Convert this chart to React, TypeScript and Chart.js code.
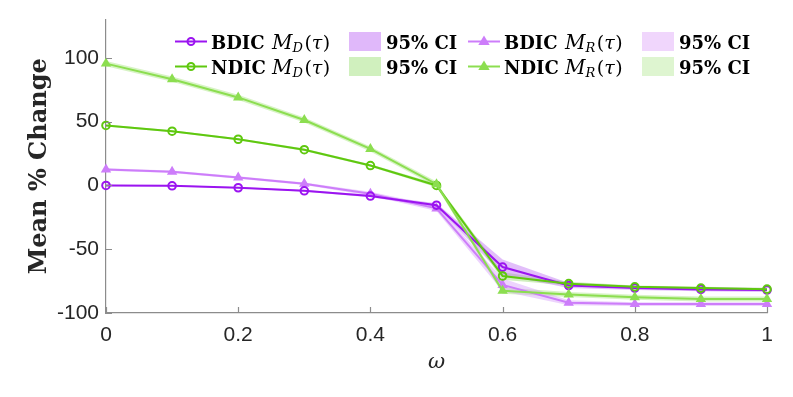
import React, { useEffect, useRef } from "react";
import { Chart, registerables } from "chart.js";
Chart.register(...registerables);

const omega = [0, 0.1, 0.2, 0.3, 0.4, 0.5, 0.6, 0.7, 0.8, 0.9, 1];
const bdicMD = [0, -0.3, -1.8, -4.2, -8.3, -15.5, -64, -78.5, -80.5, -81.5, -82];
const bdicMR = [12.5, 10.7, 6.2, 1.3, -6.5, -18, -78, -92, -93, -93, -93];
const ndicMD = [47, 42.5, 36.2, 28, 15.6, 0, -71, -77, -79.5, -80.5, -81.3];
const ndicMR = [95.5, 83.3, 69, 51.3, 28.6, 1, -82.5, -85.5, -87.7, -89, -89];
const bdicMDci = [0.5, 0.5, 0.5, 0.7, 1, 1.5, 6, 2, 1.5, 1.5, 1.5];
const bdicMRci = [1, 1, 1, 1, 1.5, 2, 5, 2, 1.5, 1.5, 1.5];
const ndicMDci = [0.8, 0.8, 0.8, 1, 1, 1.5, 3, 1.5, 1, 1, 1];
const ndicMRci = [2, 2, 2, 2, 2, 2, 2.5, 2, 2, 2, 2];
const xTicks = [0, 0.2, 0.4, 0.6, 0.8, 1];
const yTicks = [-100, -50, 0, 50, 100];

const C_BMD = "rgb(155,20,240)";
const C_BMR = "rgb(205,125,250)";
const C_NMD = "rgb(95,200,15)";
const C_NMR = "rgb(140,222,80)";
const F_BMD = "rgb(224,184,250)";
const F_BMR = "rgb(240,214,252)";
const F_NMD = "rgb(208,240,190)";
const F_NMR = "rgb(222,245,208)";

const pts = (ys: number[]) => omega.map((x, i) => ({ x, y: ys[i] }));
const band = (ys: number[], hw: number[], s: number) => omega.map((x, i) => ({ x, y: ys[i] + s * hw[i] }));

const SERIF = "'DejaVu Serif', serif";
const SANS = "'Liberation Sans', Arial, sans-serif";

function drawMathLabel(ctx: CanvasRenderingContext2D, x: number, y: number, word: string, sub: string) {
  ctx.textAlign = "left";
  ctx.textBaseline = "alphabetic";
  ctx.fillStyle = "#000";
  ctx.font = `bold 18px ${SERIF}`;
  ctx.fillText(word, x, y);
  const mx = x + 61;
  ctx.font = `italic 20px ${SERIF}`;
  ctx.fillText("M", mx, y);
  const mw = ctx.measureText("M").width;
  ctx.font = `italic 13px ${SERIF}`;
  ctx.fillText(sub, mx + mw, y + 3.5);
  const sw = ctx.measureText(sub).width;
  let px = mx + mw + sw + 1.5;
  ctx.font = `19px ${SERIF}`;
  ctx.fillText("(", px, y);
  px += ctx.measureText("(").width;
  ctx.font = `italic 19px ${SERIF}`;
  ctx.fillText("τ", px, y);
  px += ctx.measureText("τ").width + 0.5;
  ctx.font = `19px ${SERIF}`;
  ctx.fillText(")", px, y);
}

function drawMarker(ctx: CanvasRenderingContext2D, kind: string, x: number, y: number, color: string) {
  ctx.save();
  if (kind === "circle") {
    ctx.strokeStyle = color;
    ctx.lineWidth = 2;
    ctx.beginPath();
    ctx.arc(x, y, 3.5, 0, Math.PI * 2);
    ctx.stroke();
  } else {
    ctx.fillStyle = color;
    const r = 6;
    ctx.beginPath();
    ctx.moveTo(x, y - r);
    ctx.lineTo(x + r * 0.95, y + r * 0.6);
    ctx.lineTo(x - r * 0.95, y + r * 0.6);
    ctx.closePath();
    ctx.fill();
  }
  ctx.restore();
}

const legendPlugin = {
  id: "customLegend",
  afterDraw(chart: any) {
    const ctx: CanvasRenderingContext2D = chart.ctx;
    const entries = [
      { row: 0, col: 0, word: "BDIC", sub: "D", color: C_BMD, fill: F_BMD, marker: "circle" },
      { row: 1, col: 0, word: "NDIC", sub: "D", color: C_NMD, fill: F_NMD, marker: "circle" },
      { row: 0, col: 1, word: "BDIC", sub: "R", color: C_BMR, fill: F_BMR, marker: "tri" },
      { row: 1, col: 1, word: "NDIC", sub: "R", color: C_NMR, fill: F_NMR, marker: "tri" },
    ];
    const rowY = [41.5, 66.5];
    const colX = [175, 468];
    const patchX = [349, 642];
    ctx.save();
    for (const e of entries) {
      const cy = rowY[e.row];
      const x0 = colX[e.col];
      ctx.strokeStyle = e.color;
      ctx.lineWidth = 2;
      ctx.beginPath();
      ctx.moveTo(x0, cy);
      ctx.lineTo(x0 + 32, cy);
      ctx.stroke();
      drawMarker(ctx, e.marker, x0 + 16, cy, e.color);
      drawMathLabel(ctx, x0 + 36, cy + 7, e.word, e.sub);
      ctx.fillStyle = e.fill;
      ctx.fillRect(patchX[e.col], cy - 9.5, 32, 19);
      ctx.fillStyle = "#000";
      ctx.font = `bold 18px ${SERIF}`;
      ctx.textAlign = "left";
      ctx.textBaseline = "alphabetic";
      ctx.fillText("95% CI", patchX[e.col] + 37, cy + 7);
    }
    ctx.restore();
  },
};

const tickPlugin = {
  id: "inwardTicks",
  afterDatasetsDraw(chart: any) {
    const ctx: CanvasRenderingContext2D = chart.ctx;
    const { left, bottom } = chart.chartArea;
    const xs = chart.scales.x;
    const ys = chart.scales.y;
    ctx.save();
    ctx.strokeStyle = "#8c8c8c";
    ctx.lineWidth = 1.2;
    ctx.beginPath();
    for (const v of yTicks) {
      const py = Math.round(ys.getPixelForValue(v)) + 0.5;
      ctx.moveTo(left, py);
      ctx.lineTo(left + 6, py);
    }
    for (const v of xTicks) {
      const px = Math.round(xs.getPixelForValue(v)) + 0.5;
      ctx.moveTo(px, bottom);
      ctx.lineTo(px, bottom - 6);
    }
    ctx.stroke();
    ctx.restore();
  },
};

export default function App() {
  const ref = useRef<HTMLCanvasElement>(null);
  useEffect(() => {
    const lineDs = (label: string, ys: number[], color: string, marker: string, order: number) => ({
      label,
      data: pts(ys),
      borderColor: color,
      backgroundColor: marker === "circle" ? "rgba(0,0,0,0)" : color,
      borderWidth: 2,
      pointStyle: marker === "circle" ? "circle" : "triangle",
      pointRadius: marker === "circle" ? 3.8 : 6,
      pointBorderWidth: marker === "circle" ? 2 : 0,
      pointBackgroundColor: marker === "circle" ? "rgba(0,0,0,0)" : color,
      pointBorderColor: color,
      fill: false,
      clip: false as any,
      order,
    });
    const bandDs = (label: string, ys: number[], hw: number[], s: number, color: string, fill: any) => ({
      label,
      data: band(ys, hw, s),
      borderWidth: 0,
      pointRadius: 0,
      backgroundColor: color,
      borderColor: "rgba(0,0,0,0)",
      fill,
      order: 10,
    });
    const chart = new Chart(ref.current!, {
      type: "line",
      data: {
        datasets: [
          lineDs("NDIC M_R", ndicMR, C_NMR, "tri", 0),
          lineDs("NDIC M_D", ndicMD, C_NMD, "circle", 1),
          lineDs("BDIC M_D", bdicMD, C_BMD, "circle", 2),
          lineDs("BDIC M_R", bdicMR, C_BMR, "tri", 3),
          bandDs("BMD up", bdicMD, bdicMDci, 1, "rgba(190,110,245,0.45)", "+1"),
          bandDs("BMD lo", bdicMD, bdicMDci, -1, "rgba(0,0,0,0)", false),
          bandDs("BMR up", bdicMR, bdicMRci, 1, "rgba(215,160,250,0.45)", "+1"),
          bandDs("BMR lo", bdicMR, bdicMRci, -1, "rgba(0,0,0,0)", false),
          bandDs("NMD up", ndicMD, ndicMDci, 1, "rgba(150,220,110,0.45)", "+1"),
          bandDs("NMD lo", ndicMD, ndicMDci, -1, "rgba(0,0,0,0)", false),
          bandDs("NMR up", ndicMR, ndicMRci, 1, "rgba(175,232,140,0.5)", "+1"),
          bandDs("NMR lo", ndicMR, ndicMRci, -1, "rgba(0,0,0,0)", false),
        ] as any,
      },
      options: {
        responsive: false,
        animation: false,
        layout: { padding: { top: 19, right: 26, left: 0, bottom: 0 } },
        plugins: { legend: { display: false }, tooltip: { enabled: false } },
        scales: {
          x: {
            type: "linear",
            min: 0,
            max: 1,
            afterFit: (s: any) => { s.height = 84; },
            afterBuildTicks: (s: any) => { s.ticks = xTicks.map((v) => ({ value: v })); },
            grid: { display: false, drawTicks: false },
            border: { display: true, color: "#8c8c8c", width: 1.2 },
            ticks: {
              padding: 10,
              color: "#262626",
              font: { family: SANS, size: 21 },
              callback: (v: any) => String(Math.round(Number(v) * 10) / 10),
            },
            title: {
              display: true,
              text: "ω",
              color: "#262626",
              font: { family: SERIF, size: 21, style: "italic" },
              padding: { top: 0, bottom: 22 },
            },
          },
          y: {
            type: "linear",
            min: -100,
            max: 130,
            afterFit: (s: any) => { s.width = 106; },
            afterBuildTicks: (s: any) => { s.ticks = yTicks.map((v) => ({ value: v })); },
            grid: { display: false, drawTicks: false },
            border: { display: true, color: "#8c8c8c", width: 1.2 },
            ticks: {
              padding: 7,
              color: "#262626",
              font: { family: SANS, size: 21 },
            },
            title: {
              display: true,
              text: "Mean % Change",
              color: "#262626",
              font: { family: SERIF, size: 24, weight: "bold" },
              padding: { top: 25, bottom: 0 },
            },
          },
        },
      } as any,
      plugins: [legendPlugin, tickPlugin],
    });
    return () => chart.destroy();
  }, []);
  return (
    <div style={{ position: "fixed", left: 0, top: 0, width: 793, height: 397, background: "#fff" }}>
      <canvas ref={ref} width={793} height={397} style={{ display: "block" }} />
    </div>
  );
}
